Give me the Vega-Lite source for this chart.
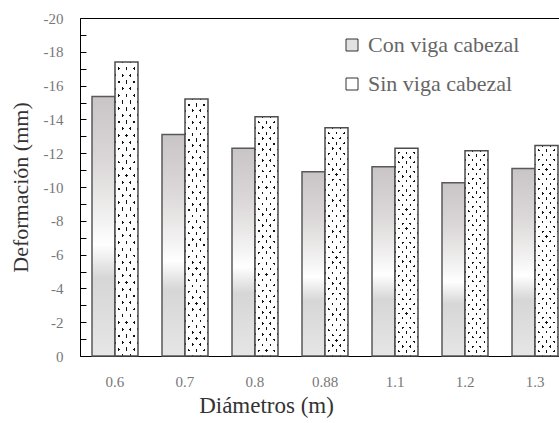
{
  "$schema": "https://vega.github.io/schema/vega-lite/v6.json",
  "width": 479,
  "height": 338,
  "autosize": "none",
  "padding": {"left": 80, "top": 18, "right": 0, "bottom": 67},
  "config": {"view": {"stroke": null}, "font": "Liberation Serif"},
  "data": {
    "values": [
      {"diametro": "0.6", "serie": "Con viga cabezal", "deformacion": -15.35},
      {"diametro": "0.6", "serie": "Sin viga cabezal", "deformacion": -17.4},
      {"diametro": "0.7", "serie": "Con viga cabezal", "deformacion": -13.1},
      {"diametro": "0.7", "serie": "Sin viga cabezal", "deformacion": -15.2},
      {"diametro": "0.8", "serie": "Con viga cabezal", "deformacion": -12.3},
      {"diametro": "0.8", "serie": "Sin viga cabezal", "deformacion": -14.15},
      {"diametro": "0.88", "serie": "Con viga cabezal", "deformacion": -10.9},
      {"diametro": "0.88", "serie": "Sin viga cabezal", "deformacion": -13.5},
      {"diametro": "1.1", "serie": "Con viga cabezal", "deformacion": -11.2},
      {"diametro": "1.1", "serie": "Sin viga cabezal", "deformacion": -12.3},
      {"diametro": "1.2", "serie": "Con viga cabezal", "deformacion": -10.25},
      {"diametro": "1.2", "serie": "Sin viga cabezal", "deformacion": -12.15},
      {"diametro": "1.3", "serie": "Con viga cabezal", "deformacion": -11.1},
      {"diametro": "1.3", "serie": "Sin viga cabezal", "deformacion": -12.45}
    ]
  },
  "encoding": {
    "x": {
      "field": "diametro",
      "type": "ordinal",
      "sort": null,
      "scale": {"range": [0, 490], "paddingInner": 0.3429, "paddingOuter": 0.1714}
    },
    "xOffset": {
      "field": "serie",
      "type": "nominal",
      "scale": {"paddingInner": 0, "paddingOuter": 0}
    },
    "y": {
      "field": "deformacion",
      "type": "quantitative",
      "scale": {"domain": [-20, 0], "reverse": true},
      "axis": {
        "title": "Deformación (mm)",
        "values": [-20, -19, -18, -17, -16, -15, -14, -13, -12, -11, -10, -9, -8, -7, -6, -5, -4, -3, -2, -1, 0],
        "labelExpr": "datum.value % 2 === 0 ? (datum.value === 0 ? '0' : '-' + abs(datum.value)) : ''",
        "grid": false,
        "tickSize": -6,
        "tickColor": "black",
        "domainColor": "black",
        "domainWidth": 1,
        "labelFont": "Liberation Serif",
        "labelFontSize": 15,
        "labelColor": "#777",
        "labelPadding": 23,
        "titleFont": "Liberation Serif",
        "titleFontSize": 22,
        "titleFontWeight": "normal",
        "titleColor": "#333",
        "titlePadding": 11
      }
    }
  },
  "resolve": {"axis": {"x": "independent"}},
  "layer": [
    {
      "mark": {"type": "bar"},
      "encoding": {
        "x": {
          "field": "diametro",
          "type": "ordinal",
          "sort": null,
          "axis": {
            "title": "Diámetros (m)",
            "ticks": false,
            "labelAngle": 0,
            "domainColor": "black",
            "domainWidth": 1,
            "labelPadding": 18,
            "labelFont": "Liberation Serif",
            "labelFontSize": 15,
            "labelColor": "#777",
            "titleFont": "Liberation Serif",
            "titleFontSize": 23,
            "titleFontWeight": "normal",
            "titleColor": "#333",
            "titleX": 186,
            "titlePadding": 5
          }
        },
        "color": {
          "field": "serie",
          "type": "nominal",
          "scale": {"range": ["#e2e2e2", "#ffffff"]},
          "legend": {
            "title": null,
            "orient": "none",
            "legendX": 261,
            "legendY": 16,
            "symbolType": "square",
            "symbolSize": 144,
            "symbolStrokeColor": "#333",
            "symbolStrokeWidth": 1,
            "labelFont": "Liberation Serif",
            "labelFontSize": 22,
            "labelColor": "#666",
            "labelOffset": 5,
            "rowPadding": 17,
            "encode": {
              "symbols": {
                "update": {
                  "fill": [
                    {
                      "test": "datum.value === 'Con viga cabezal'",
                      "value": {
                        "gradient": "linear", "x1": 0, "y1": 0, "x2": 0, "y2": 1,
                        "stops": [
                          {"offset": 0, "color": "#c8c5c6"},
                          {"offset": 0.5, "color": "#ffffff"},
                          {"offset": 1, "color": "#d8d8d8"}
                        ]
                      }
                    },
                    {
                      "value": {
                        "gradient": "radial", "x1": 0.5, "y1": 0.5, "r1": 0, "x2": 0.5, "y2": 0.5, "r2": 0.5,
                        "stops": [
                          {"offset": 0, "color": "#222"},
                          {"offset": 0.22, "color": "#222"},
                          {"offset": 0.26, "color": "#fff"},
                          {"offset": 1, "color": "#fff"}
                        ]
                      }
                    }
                  ],
                  "stroke": {"value": "#333"},
                  "opacity": {"value": 1}
                }
              }
            }
          }
        }
      }
    },
    {
      "transform": [{"filter": "datum.serie === 'Con viga cabezal'"}],
      "mark": {
        "type": "bar",
        "stroke": "#595959",
        "strokeWidth": 1.5,
        "fill": {
          "gradient": "linear", "x1": 0, "y1": 0, "x2": 0, "y2": 1,
          "stops": [
            {"offset": 0, "color": "#c9c5c6"},
            {"offset": 0.25, "color": "#dbd7d8"},
            {"offset": 0.4, "color": "#ebe8e8"},
            {"offset": 0.5, "color": "#f5f5f5"},
            {"offset": 0.57, "color": "#ffffff"},
            {"offset": 0.63, "color": "#ececec"},
            {"offset": 0.7, "color": "#d6d6d6"},
            {"offset": 0.85, "color": "#dedede"},
            {"offset": 1, "color": "#e6e6e6"}
          ]
        }
      },
      "encoding": {
        "x": {"field": "diametro", "type": "ordinal", "sort": null, "axis": null}
      }
    },
    {
      "transform": [{"filter": "datum.serie === 'Sin viga cabezal'"}],
      "mark": {
        "type": "bar",
        "strokeWidth": 0,
        "fill": {
          "gradient": "linear", "x1": 0, "y1": 0, "x2": 0.15213, "y2": 1.11562,
          "stops": [
            {"offset": 0, "color": "#fff"},
            {"offset": 0.0345, "color": "#fff"}, {"offset": 0.0345, "color": "#111"}, {"offset": 0.0455, "color": "#111"}, {"offset": 0.0455, "color": "#fff"},
            {"offset": 0.0745, "color": "#fff"}, {"offset": 0.0745, "color": "#111"}, {"offset": 0.0855, "color": "#111"}, {"offset": 0.0855, "color": "#fff"},
            {"offset": 0.1145, "color": "#fff"}, {"offset": 0.1145, "color": "#111"}, {"offset": 0.1255, "color": "#111"}, {"offset": 0.1255, "color": "#fff"},
            {"offset": 0.1545, "color": "#fff"}, {"offset": 0.1545, "color": "#111"}, {"offset": 0.1655, "color": "#111"}, {"offset": 0.1655, "color": "#fff"},
            {"offset": 0.1945, "color": "#fff"}, {"offset": 0.1945, "color": "#111"}, {"offset": 0.2055, "color": "#111"}, {"offset": 0.2055, "color": "#fff"},
            {"offset": 0.2345, "color": "#fff"}, {"offset": 0.2345, "color": "#111"}, {"offset": 0.2455, "color": "#111"}, {"offset": 0.2455, "color": "#fff"},
            {"offset": 0.2745, "color": "#fff"}, {"offset": 0.2745, "color": "#111"}, {"offset": 0.2855, "color": "#111"}, {"offset": 0.2855, "color": "#fff"},
            {"offset": 0.3145, "color": "#fff"}, {"offset": 0.3145, "color": "#111"}, {"offset": 0.3255, "color": "#111"}, {"offset": 0.3255, "color": "#fff"},
            {"offset": 0.3545, "color": "#fff"}, {"offset": 0.3545, "color": "#111"}, {"offset": 0.3655, "color": "#111"}, {"offset": 0.3655, "color": "#fff"},
            {"offset": 0.3945, "color": "#fff"}, {"offset": 0.3945, "color": "#111"}, {"offset": 0.4055, "color": "#111"}, {"offset": 0.4055, "color": "#fff"},
            {"offset": 0.4345, "color": "#fff"}, {"offset": 0.4345, "color": "#111"}, {"offset": 0.4455, "color": "#111"}, {"offset": 0.4455, "color": "#fff"},
            {"offset": 0.4745, "color": "#fff"}, {"offset": 0.4745, "color": "#111"}, {"offset": 0.4855, "color": "#111"}, {"offset": 0.4855, "color": "#fff"},
            {"offset": 0.5145, "color": "#fff"}, {"offset": 0.5145, "color": "#111"}, {"offset": 0.5255, "color": "#111"}, {"offset": 0.5255, "color": "#fff"},
            {"offset": 0.5545, "color": "#fff"}, {"offset": 0.5545, "color": "#111"}, {"offset": 0.5655, "color": "#111"}, {"offset": 0.5655, "color": "#fff"},
            {"offset": 0.5945, "color": "#fff"}, {"offset": 0.5945, "color": "#111"}, {"offset": 0.6055, "color": "#111"}, {"offset": 0.6055, "color": "#fff"},
            {"offset": 0.6345, "color": "#fff"}, {"offset": 0.6345, "color": "#111"}, {"offset": 0.6455, "color": "#111"}, {"offset": 0.6455, "color": "#fff"},
            {"offset": 0.6745, "color": "#fff"}, {"offset": 0.6745, "color": "#111"}, {"offset": 0.6855, "color": "#111"}, {"offset": 0.6855, "color": "#fff"},
            {"offset": 0.7145, "color": "#fff"}, {"offset": 0.7145, "color": "#111"}, {"offset": 0.7255, "color": "#111"}, {"offset": 0.7255, "color": "#fff"},
            {"offset": 0.7545, "color": "#fff"}, {"offset": 0.7545, "color": "#111"}, {"offset": 0.7655, "color": "#111"}, {"offset": 0.7655, "color": "#fff"},
            {"offset": 0.7945, "color": "#fff"}, {"offset": 0.7945, "color": "#111"}, {"offset": 0.8055, "color": "#111"}, {"offset": 0.8055, "color": "#fff"},
            {"offset": 0.8345, "color": "#fff"}, {"offset": 0.8345, "color": "#111"}, {"offset": 0.8455, "color": "#111"}, {"offset": 0.8455, "color": "#fff"},
            {"offset": 0.8745, "color": "#fff"}, {"offset": 0.8745, "color": "#111"}, {"offset": 0.8855, "color": "#111"}, {"offset": 0.8855, "color": "#fff"},
            {"offset": 0.9145, "color": "#fff"}, {"offset": 0.9145, "color": "#111"}, {"offset": 0.9255, "color": "#111"}, {"offset": 0.9255, "color": "#fff"},
            {"offset": 0.9545, "color": "#fff"}, {"offset": 0.9545, "color": "#111"}, {"offset": 0.9655, "color": "#111"}, {"offset": 0.9655, "color": "#fff"},
            {"offset": 1, "color": "#fff"}
          ]
        }
      },
      "encoding": {
        "x": {"field": "diametro", "type": "ordinal", "sort": null, "axis": null}
      }
    },
    {
      "transform": [{"filter": "datum.serie === 'Sin viga cabezal'"}],
      "mark": {
        "type": "bar",
        "stroke": "#4d4d4d",
        "strokeWidth": 1.5,
        "fill": {
          "gradient": "linear", "x1": 0, "y1": 1, "x2": 0.15213, "y2": -0.11562,
          "stops": [
            {"offset": 0, "color": "#fff"},
            {"offset": 0.0345, "color": "#fff"}, {"offset": 0.0345, "color": "rgba(255,255,255,0)"}, {"offset": 0.0455, "color": "rgba(255,255,255,0)"}, {"offset": 0.0455, "color": "#fff"},
            {"offset": 0.0745, "color": "#fff"}, {"offset": 0.0745, "color": "rgba(255,255,255,0)"}, {"offset": 0.0855, "color": "rgba(255,255,255,0)"}, {"offset": 0.0855, "color": "#fff"},
            {"offset": 0.1145, "color": "#fff"}, {"offset": 0.1145, "color": "rgba(255,255,255,0)"}, {"offset": 0.1255, "color": "rgba(255,255,255,0)"}, {"offset": 0.1255, "color": "#fff"},
            {"offset": 0.1545, "color": "#fff"}, {"offset": 0.1545, "color": "rgba(255,255,255,0)"}, {"offset": 0.1655, "color": "rgba(255,255,255,0)"}, {"offset": 0.1655, "color": "#fff"},
            {"offset": 0.1945, "color": "#fff"}, {"offset": 0.1945, "color": "rgba(255,255,255,0)"}, {"offset": 0.2055, "color": "rgba(255,255,255,0)"}, {"offset": 0.2055, "color": "#fff"},
            {"offset": 0.2345, "color": "#fff"}, {"offset": 0.2345, "color": "rgba(255,255,255,0)"}, {"offset": 0.2455, "color": "rgba(255,255,255,0)"}, {"offset": 0.2455, "color": "#fff"},
            {"offset": 0.2745, "color": "#fff"}, {"offset": 0.2745, "color": "rgba(255,255,255,0)"}, {"offset": 0.2855, "color": "rgba(255,255,255,0)"}, {"offset": 0.2855, "color": "#fff"},
            {"offset": 0.3145, "color": "#fff"}, {"offset": 0.3145, "color": "rgba(255,255,255,0)"}, {"offset": 0.3255, "color": "rgba(255,255,255,0)"}, {"offset": 0.3255, "color": "#fff"},
            {"offset": 0.3545, "color": "#fff"}, {"offset": 0.3545, "color": "rgba(255,255,255,0)"}, {"offset": 0.3655, "color": "rgba(255,255,255,0)"}, {"offset": 0.3655, "color": "#fff"},
            {"offset": 0.3945, "color": "#fff"}, {"offset": 0.3945, "color": "rgba(255,255,255,0)"}, {"offset": 0.4055, "color": "rgba(255,255,255,0)"}, {"offset": 0.4055, "color": "#fff"},
            {"offset": 0.4345, "color": "#fff"}, {"offset": 0.4345, "color": "rgba(255,255,255,0)"}, {"offset": 0.4455, "color": "rgba(255,255,255,0)"}, {"offset": 0.4455, "color": "#fff"},
            {"offset": 0.4745, "color": "#fff"}, {"offset": 0.4745, "color": "rgba(255,255,255,0)"}, {"offset": 0.4855, "color": "rgba(255,255,255,0)"}, {"offset": 0.4855, "color": "#fff"},
            {"offset": 0.5145, "color": "#fff"}, {"offset": 0.5145, "color": "rgba(255,255,255,0)"}, {"offset": 0.5255, "color": "rgba(255,255,255,0)"}, {"offset": 0.5255, "color": "#fff"},
            {"offset": 0.5545, "color": "#fff"}, {"offset": 0.5545, "color": "rgba(255,255,255,0)"}, {"offset": 0.5655, "color": "rgba(255,255,255,0)"}, {"offset": 0.5655, "color": "#fff"},
            {"offset": 0.5945, "color": "#fff"}, {"offset": 0.5945, "color": "rgba(255,255,255,0)"}, {"offset": 0.6055, "color": "rgba(255,255,255,0)"}, {"offset": 0.6055, "color": "#fff"},
            {"offset": 0.6345, "color": "#fff"}, {"offset": 0.6345, "color": "rgba(255,255,255,0)"}, {"offset": 0.6455, "color": "rgba(255,255,255,0)"}, {"offset": 0.6455, "color": "#fff"},
            {"offset": 0.6745, "color": "#fff"}, {"offset": 0.6745, "color": "rgba(255,255,255,0)"}, {"offset": 0.6855, "color": "rgba(255,255,255,0)"}, {"offset": 0.6855, "color": "#fff"},
            {"offset": 0.7145, "color": "#fff"}, {"offset": 0.7145, "color": "rgba(255,255,255,0)"}, {"offset": 0.7255, "color": "rgba(255,255,255,0)"}, {"offset": 0.7255, "color": "#fff"},
            {"offset": 0.7545, "color": "#fff"}, {"offset": 0.7545, "color": "rgba(255,255,255,0)"}, {"offset": 0.7655, "color": "rgba(255,255,255,0)"}, {"offset": 0.7655, "color": "#fff"},
            {"offset": 0.7945, "color": "#fff"}, {"offset": 0.7945, "color": "rgba(255,255,255,0)"}, {"offset": 0.8055, "color": "rgba(255,255,255,0)"}, {"offset": 0.8055, "color": "#fff"},
            {"offset": 0.8345, "color": "#fff"}, {"offset": 0.8345, "color": "rgba(255,255,255,0)"}, {"offset": 0.8455, "color": "rgba(255,255,255,0)"}, {"offset": 0.8455, "color": "#fff"},
            {"offset": 0.8745, "color": "#fff"}, {"offset": 0.8745, "color": "rgba(255,255,255,0)"}, {"offset": 0.8855, "color": "rgba(255,255,255,0)"}, {"offset": 0.8855, "color": "#fff"},
            {"offset": 0.9145, "color": "#fff"}, {"offset": 0.9145, "color": "rgba(255,255,255,0)"}, {"offset": 0.9255, "color": "rgba(255,255,255,0)"}, {"offset": 0.9255, "color": "#fff"},
            {"offset": 0.9545, "color": "#fff"}, {"offset": 0.9545, "color": "rgba(255,255,255,0)"}, {"offset": 0.9655, "color": "rgba(255,255,255,0)"}, {"offset": 0.9655, "color": "#fff"},
            {"offset": 1, "color": "#fff"}
          ]
        }
      },
      "encoding": {
        "x": {
          "field": "diametro",
          "type": "ordinal",
          "sort": null,
          "axis": {"orient": "top", "labels": false, "ticks": false, "title": null, "domainColor": "black", "domainWidth": 1}
        }
      }
    }
  ]
}
